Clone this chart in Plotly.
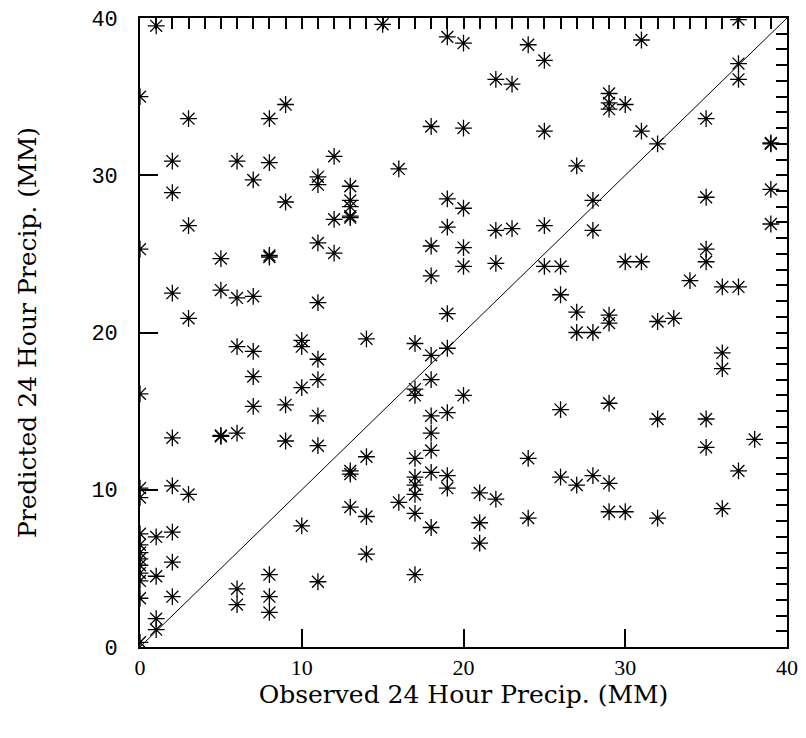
import plotly.graph_objects as go

# Observed (x) and predicted (y) 24-hour precipitation, grouped by observed value
obs_values = [0]*14 + [1]*5 + [2]*8 + [3]*4 + [5]*4 + [6]*6 + [7]*5 + [8]*7 + [9]*4 + [10]*4 \
    + [11]*9 + [12]*3 + [13]*8 + [14]*4 + [15]*1 + [16]*2 + [17]*9 + [18]*10 + [19]*8 + [20]*6 \
    + [21]*3 + [22]*4 + [23]*2 + [24]*3 + [25]*4 + [26]*4 + [27]*4 + [28]*4 + [29]*8 + [30]*3 \
    + [31]*3 + [32]*4 + [33]*1 + [34]*1 + [35]*6 + [36]*4 + [37]*5 + [38]*1 + [39]*4

pred_values = [
    35.0, 25.3, 16.1, 10.1, 9.5, 7.2, 6.5, 6.0, 5.6, 5.2, 4.7, 4.2, 3.1, 0.3,   # 0
    39.5, 7.0, 4.5, 1.8, 1.1,                                                   # 1
    30.9, 28.9, 22.5, 13.3, 10.25, 7.3, 5.4, 3.2,                               # 2
    33.6, 26.8, 20.9, 9.7,                                                      # 3
    24.7, 22.7, 13.4, 13.45,                                                    # 5
    30.9, 22.2, 19.1, 13.6, 3.7, 2.7,                                           # 6
    29.7, 22.3, 18.8, 17.2, 15.3,                                               # 7
    33.6, 30.8, 24.8, 24.9, 4.6, 3.2, 2.2,                                      # 8
    34.5, 28.3, 15.4, 13.1,                                                     # 9
    19.5, 19.1, 16.5, 7.7,                                                      # 10
    29.9, 29.4, 25.7, 21.9, 18.3, 17.0, 14.7, 12.8, 4.15,                       # 11
    31.2, 27.2, 25.05,                                                          # 12
    29.3, 28.4, 28.0, 27.4, 27.3, 11.0, 11.2, 8.9,                              # 13
    19.6, 12.1, 8.3, 5.9,                                                       # 14
    39.6,                                                                       # 15
    30.4, 9.2,                                                                  # 16
    19.3, 16.4, 16.0, 12.0, 10.8, 10.3, 9.7, 8.5, 4.6,                          # 17
    33.1, 25.5, 23.6, 18.55, 17.0, 14.7, 13.6, 12.5, 11.1, 7.6,                 # 18
    38.8, 28.5, 26.7, 21.2, 19.0, 14.9, 10.9, 10.1,                             # 19
    38.4, 33.0, 27.9, 25.4, 24.2, 16.0,                                         # 20
    9.8, 7.9, 6.6,                                                              # 21
    36.1, 26.5, 24.4, 9.4,                                                      # 22
    35.8, 26.6,                                                                 # 23
    38.3, 12.0, 8.2,                                                            # 24
    37.3, 32.8, 26.8, 24.2,                                                     # 25
    24.2, 22.4, 15.1, 10.8,                                                     # 26
    30.6, 21.3, 20.0, 10.3,                                                     # 27
    28.4, 26.5, 20.0, 10.9,                                                     # 28
    35.2, 34.6, 34.2, 21.1, 20.6, 15.5, 10.4, 8.6,                              # 29
    34.5, 24.5, 8.6,                                                            # 30
    38.6, 32.8, 24.5,                                                           # 31
    32.0, 20.7, 14.5, 8.2,                                                      # 32
    20.9,                                                                       # 33
    23.3,                                                                       # 34
    33.6, 28.6, 25.3, 24.5, 14.5, 12.7,                                         # 35
    22.9, 18.7, 17.7, 8.8,                                                      # 36
    39.9, 37.1, 36.1, 22.9, 11.2,                                               # 37
    13.2,                                                                       # 38
    32.0, 32.05, 29.1, 26.9,                                                    # 39
]

diag_x = [0, 40]
diag_y = [0, 40]
axis_range = [0, 40]
major_step = 10
minor_step = 1

fig = go.Figure()
fig.add_trace(go.Scatter(x=obs_values, y=pred_values, mode="markers",
                         marker=dict(symbol="asterisk-open", size=14,
                                     line=dict(color="black", width=1.3),
                                     color="black"),
                         cliponaxis=True, showlegend=False))
fig.add_trace(go.Scatter(x=diag_x, y=diag_y, mode="lines", xaxis="x2", yaxis="y2",
                         line=dict(color="black", width=1), hoverinfo="skip",
                         showlegend=False))

# main axes: major ticks only (no minor, no tick mirroring)
main_common = dict(
    range=axis_range, showgrid=False, zeroline=False,
    showline=True, linecolor="black", linewidth=1.6, mirror=True,
    ticks="inside", ticklen=18, tickwidth=2, tickcolor="black",
    tickmode="linear", tick0=0, dtick=major_step,
)
# overlay axes (top / right): every-unit ticks
over_common = dict(
    range=axis_range, showgrid=False, zeroline=False, showline=False,
    showticklabels=False,
    ticks="inside", ticklen=11, tickwidth=2, tickcolor="black",
    tickmode="linear", tick0=0, dtick=minor_step,
)

fig.update_layout(
    xaxis=dict(**main_common,
               tickfont=dict(family="Liberation Serif", size=22, color="black"),
               title=dict(text="Observed 24 Hour Precip. (MM)",
                          font=dict(family="DejaVu Serif", size=25, color="black"),
                          standoff=0)),
    yaxis=dict(**main_common,
               tickfont=dict(family="Liberation Mono", size=22, color="black"),
               ticklabelstandoff=16,
               title=dict(text="Predicted 24 Hour Precip. (MM)",
                          font=dict(family="DejaVu Serif", size=25, color="black"),
                          standoff=48)),
    xaxis2=dict(**over_common, overlaying="x", side="top", anchor="y2"),
    yaxis2=dict(**over_common, overlaying="y", side="right", anchor="x2"),
    width=806, height=738,
    margin=dict(l=140, r=19, t=18, b=91, autoexpand=False),
    paper_bgcolor="white", plot_bgcolor="white",
)

fig.write_html("out.html", config={"displayModeBar": False},
               post_script="document.body.style.margin='0px';")
